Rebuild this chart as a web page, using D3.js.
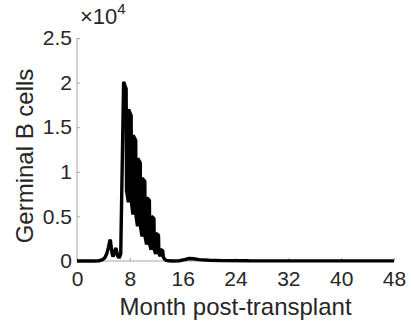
<!DOCTYPE html>
<html>
<head>
<meta charset="utf-8">
<script src="https://cdn.jsdelivr.net/npm/d3@7"></script>
<style>
  html, body { margin: 0; padding: 0; background: #fff; }
  svg { display: block; font-family: "Liberation Sans", Arial, Helvetica, sans-serif; }
</style>
</head>
<body>
<svg id="chart" width="411" height="326"></svg>
<script>
// Simulated germinal B-cell counts after transplant (time in months)
const months = [
  0, 2.5, 3.3, 3.8, 4.2, 4.5, 4.75, 4.95, 5.05, 5.15, 5.3, 5.45, 5.6, 5.8, 5.9, 6.0, 6.2, 6.35, 6.45, 6.62,
  7.06, 7.44, 7.5, 7.78,
  7.81, 8.2, 8.26, 8.47,
  8.5, 8.89, 8.95, 9.16,
  9.19, 9.58, 9.64, 9.85,
  9.88, 10.27, 10.33, 10.54,
  10.57, 10.96, 11.02, 11.23,
  11.26, 11.65, 11.71, 11.92,
  11.95, 12.34, 12.4, 12.61,
  12.64, 12.98, 13.08, 13.25, 13.5, 13.9, 14.5,
  15.5, 16.3, 17.0, 17.6, 18.5, 20, 22, 26, 32, 48
];
const cells = [
  0, 0, 30, 120, 350, 800, 1500, 2200, 2400, 1700, 900, 500, 700, 1300, 1450, 1100, 500, 400, 450, 800,
  20100, 19300, 7900, 6600,
  17000, 16300, 6500, 5200,
  14100, 13500, 5000, 3900,
  11500, 11000, 3700, 2750,
  9300, 8900, 2650, 1850,
  7100, 6800, 1800, 1250,
  5000, 4750, 1250, 800,
  3100, 2900, 850, 520,
  1300, 1150, 400, 200, 70, 20, 0,
  30, 150, 280, 250, 150, 80, 40, 20, 10, 10
];
const xTicks = [0, 8, 16, 24, 32, 40, 48];
const yTicks = [0, 5000, 10000, 15000, 20000, 25000];
const yTickLabels = ["0", "0.5", "1", "1.5", "2", "2.5"];

const svg = d3.select("#chart");
const x = d3.scaleLinear().domain([0, 48]).range([77, 394]);
const y = d3.scaleLinear().domain([0, 25000]).range([261, 38]);

const axisColor = "#a6a6a6";
const textColor = "#262626";

// x axis
const gx = svg.append("g").attr("transform", `translate(0,${y(0)})`)
  .call(d3.axisBottom(x).tickValues(xTicks).tickSize(-3).tickPadding(10).tickFormat(d3.format("d")));
gx.select(".domain").attr("stroke", axisColor).attr("d", `M${x(0)},0H${x(48)}`);
gx.selectAll(".tick line").attr("stroke", axisColor);
gx.selectAll(".tick text").attr("fill", textColor).attr("font-size", 21).attr("font-family", "Liberation Sans, Arial, sans-serif");

// y axis
const gy = svg.append("g").attr("transform", `translate(${x(0)},0)`)
  .call(d3.axisLeft(y).tickValues(yTicks).tickSize(-3).tickPadding(5)
    .tickFormat((d, i) => yTickLabels[i]));
gy.select(".domain").attr("stroke", axisColor).attr("d", `M0,${y(0)}V${y(25000)}`);
gy.selectAll(".tick line").attr("stroke", axisColor);
gy.selectAll(".tick text").attr("fill", textColor).attr("font-size", 21).attr("font-family", "Liberation Sans, Arial, sans-serif");

// exponent multiplier
const mult = svg.append("text").attr("x", 80).attr("y", 24).attr("fill", textColor)
  .attr("font-size", 22);
mult.append("tspan").text("×10");
mult.append("tspan").attr("dy", -10).attr("font-size", 15).text("4");

// axis titles
svg.append("text").attr("x", 235.5).attr("y", 315).attr("text-anchor", "middle")
  .attr("fill", textColor).attr("font-size", 24).text("Month post-transplant");
svg.append("text").attr("transform", "translate(33,156) rotate(-90)").attr("text-anchor", "middle")
  .attr("fill", textColor).attr("font-size", 24).text("Germinal B cells");

// data line
const pts = months.map((m, i) => [m, cells[i]]);
svg.append("path").datum(pts)
  .attr("fill", "none").attr("stroke", "#000").attr("stroke-width", 3.4)
  .attr("stroke-linejoin", "bevel")
  .attr("d", d3.line().x(d => x(d[0])).y(d => y(d[1])));
</script>
</body>
</html>
